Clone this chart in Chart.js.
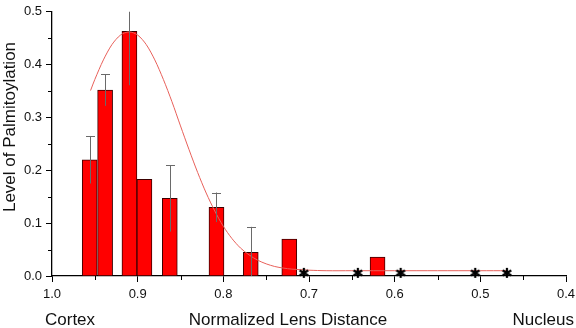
<!DOCTYPE html>
<html>
<head>
<meta charset="utf-8">
<script src="https://cdn.jsdelivr.net/npm/chart.js@4"></script>
<style>
  html, body { margin: 0; padding: 0; background: #fff; }
  #wrap { width: 576px; height: 328px; }
</style>
</head>
<body>
<div id="wrap"><canvas id="c" width="576" height="328"></canvas></div>
<script>
// bar positions (normalized lens distance) and palmitoylation level
const barX = [0.956, 0.938, 0.9096, 0.8921, 0.8625, 0.808, 0.768, 0.723, 0.620];
const barY = [0.220, 0.352, 0.463, 0.183, 0.147, 0.130, 0.045, 0.070, 0.036];
const barErr = [0.045, 0.030, 0.102, null, 0.063, 0.028, 0.048, null, null];

// fitted curve
const fitX = [0.955, 0.95, 0.94, 0.93, 0.92, 0.91, 0.90, 0.89, 0.88, 0.87, 0.86, 0.85, 0.84, 0.83, 0.82,
  0.81, 0.80, 0.79, 0.78, 0.77, 0.76, 0.75, 0.74, 0.73, 0.72, 0.71, 0.70, 0.68, 0.65, 0.60, 0.55, 0.50, 0.469];
const fitY = [0.351, 0.372, 0.409, 0.438, 0.456, 0.462, 0.456, 0.438, 0.409, 0.372, 0.330, 0.284, 0.239, 0.196, 0.157,
  0.123, 0.094, 0.071, 0.053, 0.040, 0.030, 0.023, 0.018, 0.015, 0.013, 0.012, 0.011, 0.010, 0.010, 0.010, 0.010, 0.010, 0.010];

// positions with no detectable signal (asterisks)
const starX = [0.706, 0.643, 0.593, 0.506, 0.469];
const starY = [0.006, 0.006, 0.006, 0.006, 0.006];

const xTicks = [1.0, 0.9, 0.8, 0.7, 0.6, 0.5, 0.4];
const yTicks = [0.0, 0.1, 0.2, 0.3, 0.4, 0.5];

const FONT = "'Liberation Sans', Arial, sans-serif";

// small typographic asterisk used as point style
function asteriskImage() {
  const c = document.createElement("canvas");
  c.width = 12; c.height = 12;
  const g = c.getContext("2d");
  g.strokeStyle = "#000";
  g.lineWidth = 2.2;
  const r = 5;
  for (let k = 0; k < 3; k++) {
    const a = Math.PI / 2 + k * Math.PI / 3;
    g.beginPath();
    g.moveTo(6 - r * Math.cos(a), 6 - r * Math.sin(a));
    g.lineTo(6 + r * Math.cos(a), 6 + r * Math.sin(a));
    g.stroke();
  }
  return c;
}

const errorBars = {
  id: "errorBars",
  afterDatasetsDraw(chart) {
    const { ctx, chartArea, scales } = chart;
    ctx.save();
    ctx.beginPath();
    ctx.rect(chartArea.left, chartArea.top, chartArea.right - chartArea.left, chartArea.bottom - chartArea.top);
    ctx.clip();
    ctx.strokeStyle = "#6a6a6a";
    ctx.lineWidth = 1;
    barX.forEach((x, i) => {
      const e = barErr[i];
      if (e == null) return;
      const px = Math.round(scales.x.getPixelForValue(x)) + 0.5;
      const top = scales.y.getPixelForValue(barY[i] + e);
      const bot = scales.y.getPixelForValue(barY[i] - e);
      ctx.beginPath();
      ctx.moveTo(px, top);
      ctx.lineTo(px, bot);
      ctx.moveTo(px - 4.5, Math.round(top) + 0.5);
      ctx.lineTo(px + 4.5, Math.round(top) + 0.5);
      ctx.stroke();
    });
    ctx.restore();
  },
};

const decorations = {
  id: "decorations",
  afterDraw(chart) {
    const { ctx, chartArea, scales } = chart;
    ctx.save();
    // minor ticks
    ctx.strokeStyle = "#000";
    ctx.lineWidth = 1;
    for (let v = 0.45; v < 1.0; v += 0.1) {
      const px = Math.round(scales.x.getPixelForValue(v)) + 0.5;
      ctx.beginPath();
      ctx.moveTo(px, chartArea.bottom);
      ctx.lineTo(px, chartArea.bottom + 4);
      ctx.stroke();
    }
    for (let v = 0.05; v < 0.5; v += 0.1) {
      const py = Math.round(scales.y.getPixelForValue(v)) + 0.5;
      ctx.beginPath();
      ctx.moveTo(chartArea.left, py);
      ctx.lineTo(chartArea.left - 4, py);
      ctx.stroke();
    }
    // axis titles
    ctx.fillStyle = "#111";
    ctx.font = "17px " + FONT;
    ctx.textBaseline = "alphabetic";
    ctx.textAlign = "left";
    ctx.fillText("Cortex", 45, 325);
    ctx.textAlign = "center";
    ctx.fillText("Normalized Lens Distance", 288, 325);
    ctx.textAlign = "right";
    ctx.fillText("Nucleus", 574, 325);
    ctx.translate(15, 127);
    ctx.rotate(-Math.PI / 2);
    ctx.textAlign = "center";
    ctx.fillText("Level of Palmitoylation", 0, 0);
    ctx.restore();
  },
};

new Chart(document.getElementById("c"), {
  data: {
    datasets: [
      {
        type: "line",
        data: fitX.map((x, i) => ({ x, y: fitY[i] })),
        borderColor: "#e8605a",
        borderWidth: 1,
        pointRadius: 0,
        tension: 0.3,
        fill: false,
        order: 1,
      },
      {
        type: "scatter",
        data: starX.map((x, i) => ({ x, y: starY[i] })),
        pointStyle: asteriskImage(),
        pointRadius: 6,
        clip: false,
        order: 0,
      },
      {
        type: "bar",
        data: barX.map((x, i) => ({ x, y: barY[i] })),
        backgroundColor: "#ff0000",
        borderColor: "#3a0000",
        borderWidth: 1,
        borderSkipped: "bottom",
        barThickness: 15,
        order: 2,
      },
    ],
  },
  options: {
    responsive: false,
    animation: false,
    events: [],
    layout: { padding: { top: 8, right: 10, left: 0, bottom: 0 } },
    plugins: { legend: { display: false }, tooltip: { enabled: false } },
    scales: {
      x: {
        type: "linear",
        reverse: true,
        offset: false,
        min: 0.4,
        max: 1.0,
        afterFit(s) { s.height = 52; s.paddingLeft = 0; s.paddingRight = 0; },
        afterBuildTicks(s) { s.ticks = xTicks.map((v) => ({ value: v })); },
        grid: { display: true, offset: false, drawOnChartArea: false, drawTicks: true, tickLength: 6, color: "#000" },
        border: { display: true, color: "#000", width: 1.3 },
        ticks: {
          padding: 5,
          color: "#111",
          font: { family: FONT, size: 13 },
          callback: (v) => Number(v).toFixed(1),
        },
      },
      y: {
        type: "linear",
        min: 0,
        max: 0.5,
        afterFit(s) { s.width = 52; },
        afterBuildTicks(s) { s.ticks = yTicks.map((v) => ({ value: v })); },
        grid: { display: true, drawOnChartArea: false, drawTicks: true, tickLength: 6, color: "#000" },
        border: { display: true, color: "#000", width: 1.3 },
        ticks: {
          padding: 4,
          color: "#111",
          font: { family: FONT, size: 13 },
          callback: (v) => Number(v).toFixed(1),
        },
      },
    },
  },
  plugins: [errorBars, decorations],
});
</script>
</body>
</html>
